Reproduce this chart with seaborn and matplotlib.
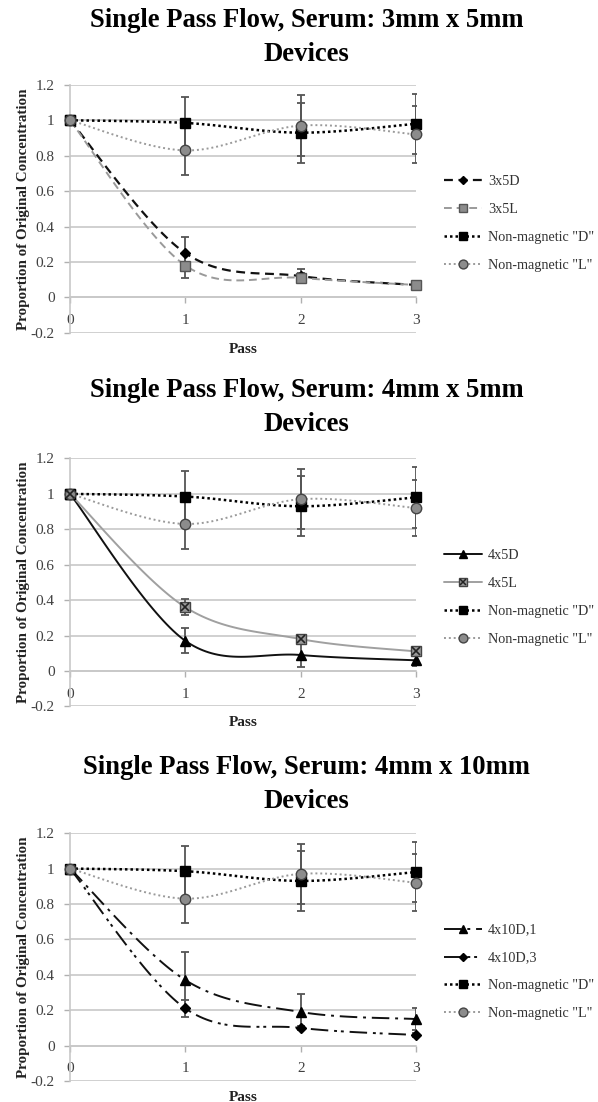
import numpy as np
import pandas as pd
import matplotlib
matplotlib.use("Agg")
import matplotlib.pyplot as plt
import seaborn as sns
from matplotlib.lines import Line2D
from matplotlib.legend_handler import HandlerTuple

passes = [0, 1, 2, 3]

# Panel titles
titles = ["Single Pass Flow, Serum: 3mm x 5mm\nDevices",
          "Single Pass Flow, Serum: 4mm x 5mm\nDevices",
          "Single Pass Flow, Serum: 4mm x 10mm\nDevices"]

# Non-magnetic controls (shared by all panels)
nonmag_d = [1.0, 0.985, 0.93, 0.98]
nonmag_d_err = [0.0, 0.145, 0.17, 0.17]
nonmag_l = [1.0, 0.83, 0.97, 0.92]
nonmag_l_err = [0.0, 0.14, 0.17, 0.16]

# Panel 1
d3x5 = [1.0, 0.25, 0.12, 0.07]
d3x5_err = [0.0, 0.09, 0.04, 0.01]
l3x5 = [1.0, 0.18, 0.11, 0.07]
l3x5_err = [0.0, 0.07, 0.03, 0.01]

# Panel 2
d4x5 = [1.0, 0.17, 0.09, 0.06]
d4x5_err = [0.0, 0.07, 0.07, 0.03]
l4x5 = [1.0, 0.36, 0.18, 0.11]
l4x5_err = [0.0, 0.045, 0.01, 0.01]

# Panel 3
d4x10_1 = [1.0, 0.37, 0.19, 0.15]
d4x10_1_err = [0.0, 0.16, 0.10, 0.06]
d4x10_3 = [1.0, 0.21, 0.10, 0.06]
d4x10_3_err = [0.0, 0.05, 0.01, 0.01]

y_ticks = [-0.2, 0, 0.2, 0.4, 0.6, 0.8, 1.0, 1.2]
y_tick_labels = ["-0.2", "0", "0.2", "0.4", "0.6", "0.8", "1", "1.2"]


def smooth(xs, ys, n=40):
    """Excel-like smoothed line (Catmull-Rom Bezier) through the data points."""
    P = np.column_stack([xs, ys]).astype(float)
    out = []
    m = len(P)
    for i in range(m - 1):
        p0 = P[i - 1] if i > 0 else P[i]
        p1, p2 = P[i], P[i + 1]
        p3 = P[i + 2] if i + 2 < m else P[i + 1]
        c1 = p1 + (p2 - p0) / 6.0
        c2 = p2 - (p3 - p1) / 6.0
        t = np.linspace(0, 1, n)[:, None]
        seg = ((1 - t) ** 3) * p1 + 3 * ((1 - t) ** 2) * t * c1 + 3 * (1 - t) * t ** 2 * c2 + t ** 3 * p2
        out.append(seg if i == 0 else seg[1:])
    s = np.vstack(out)
    return s[:, 0], s[:, 1]


sns.set_theme(style="white")
plt.rcParams['font.family'] = ['Liberation Serif', 'DejaVu Serif']

fig = plt.figure(figsize=(5.98, 11.02), dpi=100)

nonmag_series = [
    dict(label='Non-magnetic "D"', y=nonmag_d, err=nonmag_d_err, color="black",
         ls=(0, (1, 1.2)), lw=1.8, marker="s", ms=7.5, mfc="black", mec="black"),
    dict(label='Non-magnetic "L"', y=nonmag_l, err=nonmag_l_err, color="#9a9a9a",
         ls=(0, (1, 1.5)), lw=1.4, marker="o", ms=7.5, mfc="#8c8c8c", mec="#444444"),
]

panel_series = [
    [dict(label="3x5D", y=d3x5, err=d3x5_err, color="#111111", ls=(0, (4, 2.5)), lw=1.6,
          marker="D", ms=5, mfc="black", mec="black"),
     dict(label="3x5L", y=l3x5, err=l3x5_err, color="#9a9a9a", ls=(0, (4, 2.5)), lw=1.4,
          marker="s", ms=7, mfc="#8c8c8c", mec="#555555")],
    [dict(label="4x5D", y=d4x5, err=d4x5_err, color="#111111", ls="-", lw=1.4,
          marker="^", ms=6.5, mfc="black", mec="black"),
     dict(label="4x5L", y=l4x5, err=l4x5_err, color="#a0a0a0", ls="-", lw=1.4,
          marker="s", ms=7.5, mfc="#9a9a9a", mec="#444444", overlay="x")],
    [dict(label="4x10D,1", y=d4x10_1, err=d4x10_1_err, color="#111111", ls=(0, (9, 3, 1.5, 3)), lw=1.4,
          marker="^", ms=6.5, mfc="black", mec="black"),
     dict(label="4x10D,3", y=d4x10_3, err=d4x10_3_err, color="#111111", ls=(0, (9, 3, 1.5, 2, 1.5, 3)), lw=1.4,
          marker="D", ms=5, mfc="black", mec="black")],
]

# axes geometry (figure fractions)
left, width = 0.117, 0.579
bottoms = [0.698, 0.359, 0.019]
height = 0.225
title_y = [0.966, 0.630, 0.288]

for k in range(3):
    ax = fig.add_axes([left, bottoms[k], width, height])
    series = panel_series[k] + nonmag_series
    # smoothed lines
    for s in series:
        sx, sy = smooth(passes, s["y"])
        df = pd.DataFrame({"Pass": sx, "val": sy})
        sns.lineplot(data=df, x="Pass", y="val", ax=ax, color=s["color"], lw=s["lw"],
                     linestyle=s["ls"], sort=False, estimator=None, legend=False, zorder=3)
    # error bars + markers
    for s in series:
        ax.errorbar(passes, s["y"], yerr=s["err"], fmt="none", ecolor="#555555",
                    elinewidth=1.3, capsize=3.2, capthick=1.3, zorder=4)
        ax.plot(passes, s["y"], linestyle="none", marker=s["marker"], ms=s["ms"],
                mfc=s["mfc"], mec=s["mec"], mew=1.0, zorder=5, clip_on=False)
        if s.get("overlay"):
            ax.plot(passes, s["y"], linestyle="none", marker="x", ms=s["ms"] * 0.7,
                    mec="#222222", mew=1.2, zorder=6, clip_on=False)

    ax.set_xlim(0, 3)
    ax.set_ylim(-0.2, 1.2)
    ax.set_yticks(y_ticks)
    ax.set_yticklabels(y_tick_labels)
    ax.set_xticks(passes)
    ax.set_xticklabels([str(p) for p in passes])
    ax.grid(axis="y", color="#c8c8c8", lw=1.2)
    ax.grid(axis="x", visible=False)
    for sp in ["top", "right"]:
        ax.spines[sp].set_visible(False)
    ax.spines["bottom"].set_position(("data", 0))
    ax.spines["bottom"].set_color("#c8c8c8")
    ax.spines["bottom"].set_linewidth(1.2)
    ax.spines["left"].set_color("#c8c8c8")
    ax.spines["left"].set_linewidth(1.2)
    ax.tick_params(axis="both", which="major", direction="out", length=4, width=1.0,
                   color="#b0b0b0", labelsize=11, labelcolor="#404040", bottom=True, left=True)
    ax.tick_params(axis="y", pad=7)
    ax.tick_params(axis="x", pad=8)
    ax.set_xlabel("Pass", fontsize=11, fontweight="bold", color="#222222")
    ax.xaxis.set_label_coords(0.5, -0.04)
    ax.set_ylabel("Proportion of Original Concentration", fontsize=10.8, fontweight="bold",
                  color="#222222")
    ax.yaxis.set_label_coords(-0.115, 0.5)

    handles = []
    for s in series:
        h = Line2D([0], [0], color=s["color"], lw=s["lw"], linestyle=s["ls"], marker=s["marker"],
                   ms=s["ms"] * 0.85, mfc=s["mfc"], mec=s["mec"])
        if s.get("overlay"):
            h2 = Line2D([0], [0], linestyle="none", marker="x", ms=s["ms"] * 0.6,
                        mec="#222222", mew=1.1)
            h = (h, h2)
        handles.append(h)
    labels = [s["label"] for s in series]
    ax.legend(handles, labels, loc="center left", bbox_to_anchor=(1.08, 0.44), frameon=False,
              fontsize=10.2, handlelength=2.7, handletextpad=0.4, labelspacing=1.05,
              labelcolor="#333333", borderaxespad=0, borderpad=0,
              handler_map={tuple: HandlerTuple(ndivide=1)})

    fig.text(0.513, title_y[k], titles[k], ha="center", va="center", fontsize=19.2,
             fontweight="bold", linespacing=1.45, color="black")

fig.savefig("out.png", dpi=100)
